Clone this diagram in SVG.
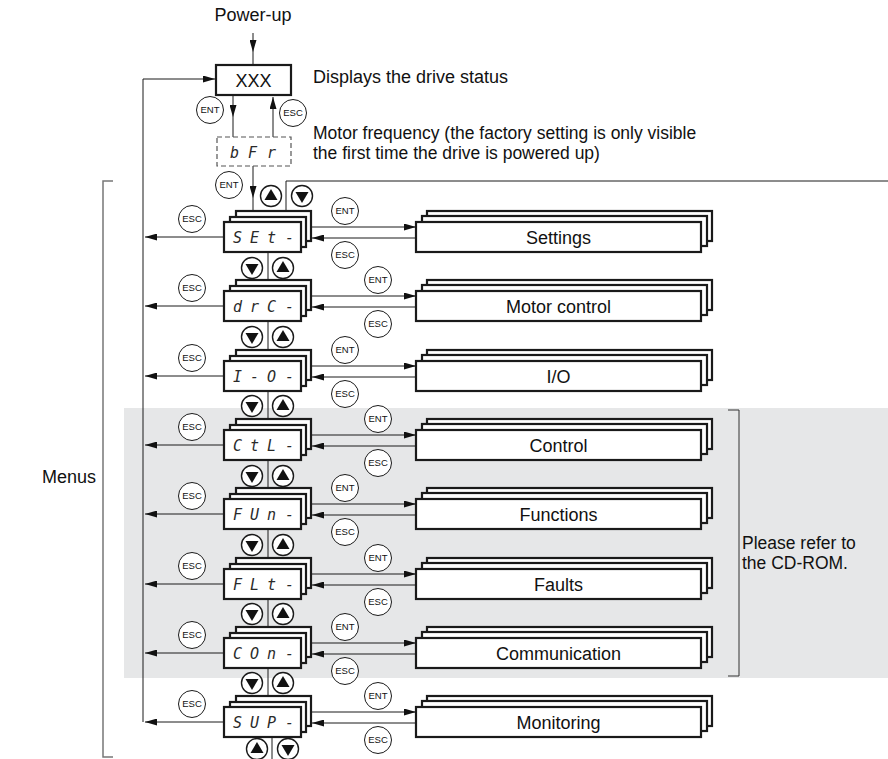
<svg xmlns="http://www.w3.org/2000/svg" xmlns:xlink="http://www.w3.org/1999/xlink" width="888" height="759" viewBox="0 0 888 759">
<style>
.ln{stroke:#1a1a1a;stroke-width:1;fill:none}
.bx{fill:#fff;stroke:#1a1a1a;stroke-width:2.2}
.btn{fill:#fff;stroke:#1a1a1a;stroke-width:1}
.nav{fill:#fff;stroke:#1a1a1a;stroke-width:1.4}
.bt{font-family:"Liberation Sans",Arial,sans-serif;font-size:9.5px;text-anchor:middle;fill:#111}
.lbl{font-family:"Liberation Sans",Arial,sans-serif;font-size:18px;fill:#111}
.two{font-size:17.5px}
.mid{text-anchor:middle}
.seg{font-family:"DejaVu Sans Mono",monospace;font-style:italic;font-size:15px;fill:#2a2a2a}
</style>
<defs>
<marker id="ah" viewBox="0 0 12 7" refX="12" refY="3.5" markerWidth="12" markerHeight="7" markerUnits="userSpaceOnUse" orient="auto"><path d="M0,0 L12,3.5 L0,7Z" fill="#111"/></marker>
<g id="bENT"><circle class="btn" r="13.5"/><text class="bt" y="3.4">ENT</text></g>
<g id="bESC"><circle class="btn" r="13.5"/><text class="bt" y="3.4">ESC</text></g>
<g id="bUp"><circle class="nav" r="10.5"/><path d="M-6.5,4 L6.5,4 L0,-7Z" fill="#111"/></g>
<g id="bDn"><circle class="nav" r="10.5"/><path d="M-6.5,-4 L6.5,-4 L0,7Z" fill="#111"/></g>
<g id="sstk"><rect class="bx" x="236" y="-26" width="75" height="30"/><rect class="bx" x="230" y="-20" width="76" height="30"/><rect class="bx" x="224" y="-15" width="77" height="30"/></g>
<g id="bstk"><rect class="bx" x="427" y="-26" width="285" height="30"/><rect class="bx" x="422" y="-21" width="285" height="30"/><rect class="bx" x="416" y="-15" width="285" height="30"/></g>
</defs>

<rect x="124" y="408" width="764" height="270" fill="#e6e7e8"/>

<g id="connectors">
<path class="ln" d="M253,33 V52" marker-end="url(#ah)"/><path class="ln" d="M253,52 V65"/>
<path class="ln" d="M143,722 V79 H215" marker-end="url(#ah)"/>
<path class="ln" d="M233,95 V117" marker-end="url(#ah)"/><path class="ln" d="M233,117 V137"/>
<path class="ln" d="M273,137 V97" marker-end="url(#ah)"/>
<path class="ln" d="M253,166 V198" marker-end="url(#ah)"/><path class="ln" d="M253,198 V211"/>
<path class="ln" d="M286,211 V181 H888"/>
<path class="ln" d="M224,237 H145" marker-end="url(#ah)"/>
<path class="ln" d="M224,306 H145" marker-end="url(#ah)"/>
<path class="ln" d="M224,376 H145" marker-end="url(#ah)"/>
<path class="ln" d="M224,445 H145" marker-end="url(#ah)"/>
<path class="ln" d="M224,514 H145" marker-end="url(#ah)"/>
<path class="ln" d="M224,584 H145" marker-end="url(#ah)"/>
<path class="ln" d="M224,653 H145" marker-end="url(#ah)"/>
<path class="ln" d="M224,722 H145" marker-end="url(#ah)"/>
<path class="ln" d="M311,227 H416" marker-end="url(#ah)"/><path class="ln" d="M416,238 H312" marker-end="url(#ah)"/>
<path class="ln" d="M311,296 H416" marker-end="url(#ah)"/><path class="ln" d="M416,307 H312" marker-end="url(#ah)"/>
<path class="ln" d="M311,366 H416" marker-end="url(#ah)"/><path class="ln" d="M416,377 H312" marker-end="url(#ah)"/>
<path class="ln" d="M311,435 H416" marker-end="url(#ah)"/><path class="ln" d="M416,446 H312" marker-end="url(#ah)"/>
<path class="ln" d="M311,504 H416" marker-end="url(#ah)"/><path class="ln" d="M416,515 H312" marker-end="url(#ah)"/>
<path class="ln" d="M311,574 H416" marker-end="url(#ah)"/><path class="ln" d="M416,585 H312" marker-end="url(#ah)"/>
<path class="ln" d="M311,643 H416" marker-end="url(#ah)"/><path class="ln" d="M416,654 H312" marker-end="url(#ah)"/>
<path class="ln" d="M311,712 H416" marker-end="url(#ah)"/><path class="ln" d="M416,723 H312" marker-end="url(#ah)"/>
<path class="ln" d="M268,252 V280 M268,321 V350 M268,391 V419 M268,460 V488 M268,529 V558 M268,599 V627 M268,668 V696 M272,737 V759"/>
</g>

<g id="powerup"><text class="lbl mid" x="253" y="21">Power-up</text></g>
<g id="xxx"><rect x="216" y="65" width="75" height="30" fill="#fff" stroke="#1a1a1a" stroke-width="2.2"/><text class="lbl mid" x="253.5" y="87" font-size="18.5">XXX</text></g>
<text class="lbl" x="313" y="83">Displays the drive status</text>
<g id="bfr"><rect x="217" y="137" width="74" height="29" fill="#fff" stroke="#555" stroke-width="1.2" stroke-dasharray="5,3"/><text class="seg" x="230 248 267" y="158" fill="#444">bFr</text></g>
<text class="lbl two" x="313" y="139">Motor frequency (the factory setting is only visible<tspan x="313" dy="19.8">the first time the drive is powered up)</tspan></text>

<use href="#bENT" x="210" y="110"/>
<use href="#bESC" x="293" y="113"/>
<use href="#bENT" x="229" y="185"/>
<use href="#bUp" x="271" y="196"/>
<use href="#bDn" x="302" y="196"/>

<g id="set"><use href="#sstk" y="237"/><text class="seg" x="233 250 267 285" y="243">SEt-</text></g>
<g id="drc"><use href="#sstk" y="306"/><text class="seg" x="233 250 267 285" y="312">drC-</text></g>
<g id="io"><use href="#sstk" y="376"/><text class="seg" x="233 250 267 285" y="382">I-O-</text></g>
<g id="ctl"><use href="#sstk" y="445"/><text class="seg" x="233 250 267 285" y="451">CtL-</text></g>
<g id="fun"><use href="#sstk" y="514"/><text class="seg" x="233 250 267 285" y="520">FUn-</text></g>
<g id="flt"><use href="#sstk" y="584"/><text class="seg" x="233 250 267 285" y="590">FLt-</text></g>
<g id="con"><use href="#sstk" y="653"/><text class="seg" x="233 250 267 285" y="659">COn-</text></g>
<g id="sup"><use href="#sstk" y="722"/><text class="seg" x="233 250 267 285" y="728">SUP-</text></g>

<g id="settings"><use href="#bstk" y="237"/><text class="lbl mid" x="558.5" y="243.5">Settings</text></g>
<g id="motorcontrol"><use href="#bstk" y="306"/><text class="lbl mid" x="558.5" y="312.5">Motor control</text></g>
<g id="iobox"><use href="#bstk" y="376"/><text class="lbl mid" x="558.5" y="382.5">I/O</text></g>
<g id="control"><use href="#bstk" y="445"/><text class="lbl mid" x="558.5" y="451.5">Control</text></g>
<g id="functions"><use href="#bstk" y="514"/><text class="lbl mid" x="558.5" y="520.5">Functions</text></g>
<g id="faults"><use href="#bstk" y="584"/><text class="lbl mid" x="558.5" y="590.5">Faults</text></g>
<g id="communication"><use href="#bstk" y="653"/><text class="lbl mid" x="558.5" y="659.5">Communication</text></g>
<g id="monitoring"><use href="#bstk" y="722"/><text class="lbl mid" x="558.5" y="728.5">Monitoring</text></g>

<g id="buttons">
<use href="#bESC" x="192" y="219"/><use href="#bESC" x="192" y="288"/><use href="#bESC" x="192" y="358"/><use href="#bESC" x="192" y="427"/>
<use href="#bESC" x="192" y="496"/><use href="#bESC" x="192" y="566"/><use href="#bESC" x="192" y="635"/><use href="#bESC" x="192" y="704"/>
<use href="#bENT" x="345" y="211"/><use href="#bESC" x="345" y="255"/>
<use href="#bENT" x="378" y="280"/><use href="#bESC" x="378" y="324"/>
<use href="#bENT" x="345" y="350"/><use href="#bESC" x="345" y="394"/>
<use href="#bENT" x="378" y="419"/><use href="#bESC" x="378" y="463"/>
<use href="#bENT" x="345" y="488"/><use href="#bESC" x="345" y="532"/>
<use href="#bENT" x="378" y="558"/><use href="#bESC" x="378" y="602"/>
<use href="#bENT" x="345" y="627"/><use href="#bESC" x="345" y="671"/>
<use href="#bENT" x="378" y="696"/><use href="#bESC" x="378" y="740"/>
<use href="#bDn" x="252" y="268"/><use href="#bUp" x="283" y="268"/>
<use href="#bDn" x="252" y="337"/><use href="#bUp" x="283" y="337"/>
<use href="#bDn" x="252" y="406"/><use href="#bUp" x="283" y="406"/>
<use href="#bDn" x="252" y="476"/><use href="#bUp" x="283" y="476"/>
<use href="#bDn" x="252" y="545"/><use href="#bUp" x="283" y="545"/>
<use href="#bDn" x="252" y="614"/><use href="#bUp" x="283" y="614"/>
<use href="#bDn" x="252" y="683"/><use href="#bUp" x="283" y="683"/>
<use href="#bUp" x="257" y="749"/><use href="#bDn" x="288" y="749"/>
</g>

<g id="menus"><path d="M113,181 H103 V757 H113" fill="none" stroke="#777" stroke-width="1.5"/><text class="lbl" x="96" y="483" text-anchor="end">Menus</text></g>
<g id="refer"><path d="M728,410 H739 V676 H728" fill="none" stroke="#333" stroke-width="1"/><text class="lbl two" x="742" y="549">Please refer to<tspan x="742" dy="19.8">the CD-ROM.</tspan></text></g>
</svg>
